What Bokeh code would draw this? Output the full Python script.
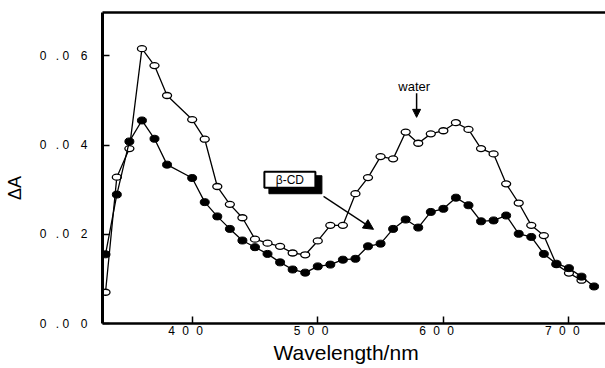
from bokeh.plotting import figure
from bokeh.models import (FixedTicker, LinearAxis, Range1d, Label, Arrow, NormalHead)
from bokeh.embed import file_html
from bokeh.resources import INLINE

# ---- data ----
wavelength = [331, 340, 350, 360, 370, 380, 400, 410, 420, 430, 440, 450, 460,
              470, 480, 490, 500, 510, 520, 530, 540, 550, 560, 570, 580, 590,
              600, 610, 620, 630, 640, 650, 660, 670, 680, 690, 700, 710]
water = [0.0070, 0.0328, 0.0392, 0.0616, 0.0578, 0.0511, 0.0457, 0.0413, 0.0307,
         0.0267, 0.0237, 0.0189, 0.0180, 0.0173, 0.0158, 0.0154, 0.0185, 0.0220,
         0.0220, 0.0291, 0.0327, 0.0374, 0.0369, 0.0429, 0.0404, 0.0425, 0.0432,
         0.0450, 0.0435, 0.0392, 0.0380, 0.0313, 0.0270, 0.0220, 0.0197, 0.0132,
         0.0113, 0.0097]

wavelength_cd = [331, 340, 350, 360, 370, 380, 400, 410, 420, 430, 440, 450, 460,
                 470, 480, 490, 500, 510, 520, 530, 540, 550, 560, 570, 580, 590,
                 600, 610, 620, 630, 640, 650, 660, 670, 680, 690, 700, 710, 720]
beta_cd = [0.0155, 0.0289, 0.0408, 0.0455, 0.0414, 0.0356, 0.0326, 0.0272, 0.0240,
           0.0212, 0.0186, 0.0171, 0.0156, 0.0137, 0.0121, 0.0114, 0.0128, 0.0132,
           0.0143, 0.0145, 0.0173, 0.0179, 0.0212, 0.0233, 0.0215, 0.0250, 0.0257,
           0.0282, 0.0265, 0.0229, 0.0231, 0.0242, 0.0201, 0.0194, 0.0156, 0.0134,
           0.0124, 0.0105, 0.0083]

x_ticks = [400, 500, 600, 700]
x_tick_labels = ["400", "500", "600", "700"]
y_ticks = [0.0, 0.02, 0.04, 0.06]
y_tick_labels = ["0.00", "0.02", "0.04", "0.06"]

FONT = "Liberation Sans"


def spaced_x(s):
    gap = "\u2004\u00a0"
    return "".join(ch + gap for ch in s) + "\u2002"


def spaced_y(s):
    out = ""
    for i, ch in enumerate(s):
        out += ch
        nxt = s[i + 1] if i + 1 < len(s) else None
        if ch == ".":
            out += "\u00a0"
        elif nxt == ".":
            out += "\u2002\u00a0"
        elif nxt is None:
            out += "\u00a0\u00a0\u00a0"
        else:
            out += "\u2002\u00a0\u2009"
    return out


p = figure(width=605, height=368, output_backend="svg", toolbar_location=None,
           x_range=Range1d(328.6, 729.1), y_range=Range1d(0.0, 0.0697),
           min_border_left=102, min_border_right=0, min_border_top=12,
           min_border_bottom=45, x_axis_label="Wavelength/nm\u00a0\u00a0\u2009",
           y_axis_label="\u0394A" + "\u00a0" * 8)
p.outline_line_color = None
p.grid.visible = False
p.background_fill_color = "white"
p.border_fill_color = "white"

xa = p.xaxis[0]
xa.ticker = FixedTicker(ticks=x_ticks)
xa.major_label_overrides = {t: spaced_x(l) for t, l in zip(x_ticks, x_tick_labels)}
ya = p.yaxis[0]
ya.ticker = FixedTicker(ticks=y_ticks)
ya.major_label_overrides = {t: spaced_y(l) for t, l in zip(y_ticks, y_tick_labels)}

for ax in (xa, ya):
    ax.axis_line_color = "black"
    ax.major_tick_in = 7
    ax.major_tick_out = 0
    ax.major_tick_line_width = 1.5
    ax.minor_tick_line_color = None
    ax.major_label_text_font = FONT
    ax.major_label_text_font_size = "12px"
    ax.major_label_text_color = "black"
    ax.axis_label_text_font = FONT
    ax.axis_label_text_font_style = "normal"
    ax.axis_label_text_color = "black"

xa.axis_line_width = 2.3
ya.axis_line_width = 3
xa.major_label_standoff = 0
xa.axis_label_standoff = 0
xa.axis_label_text_font_size = "21px"
ya.major_label_standoff = 5
ya.axis_label_standoff = 12
ya.axis_label_text_font_size = "18px"

top = LinearAxis(ticker=FixedTicker(ticks=[]), axis_line_width=2.5,
                 major_tick_line_color=None, minor_tick_line_color=None,
                 major_label_text_font_size="0px")
p.add_layout(top, "above")

# water (open markers)
p.line(wavelength, water, line_color="black", line_width=1.3)
p.ellipse(x=wavelength, y=water, width=9, height=6, width_units="screen",
          height_units="screen", fill_color="white", line_color="black",
          line_width=1.3)

# beta-CD (filled markers)
p.line(wavelength_cd, beta_cd, line_color="black", line_width=1.3)
p.ellipse(x=wavelength_cd, y=beta_cd, width=9, height=7, width_units="screen",
          height_units="screen", fill_color="black", line_color="black",
          line_width=1)

# annotation: water
p.add_layout(Label(x=576.8, y=0.0531, text="water", text_align="center",
                   text_baseline="alphabetic", text_font=FONT,
                   text_font_size="13px", text_color="black"))
p.add_layout(Arrow(end=NormalHead(size=8, fill_color="black", line_color="black"),
                   x_start=578.7, y_start=0.0516, x_end=578.7, y_end=0.0462,
                   line_color="black", line_width=1.5))

# annotation: beta-CD box with shadow
p.rect(x=[482.2], y=[0.0311], width=53, height=18, width_units="screen",
       height_units="screen", fill_color="black", line_color="black")
p.rect(x=[477.8], y=[0.0322], width=51, height=16, width_units="screen",
       height_units="screen", fill_color="white", line_color="black",
       line_width=2)
p.add_layout(Label(x=477.8, y=0.0322, text="\u03b2-CD", text_align="center",
                   text_baseline="middle", text_font=FONT,
                   text_font_size="12px", text_color="black"))
p.add_layout(Arrow(end=NormalHead(size=10, fill_color="black", line_color="black"),
                   x_start=504.6, y_start=0.0285, x_end=544.4, y_end=0.0211,
                   line_color="black", line_width=1.3))

open("out.html", "w").write(file_html(p, INLINE))
